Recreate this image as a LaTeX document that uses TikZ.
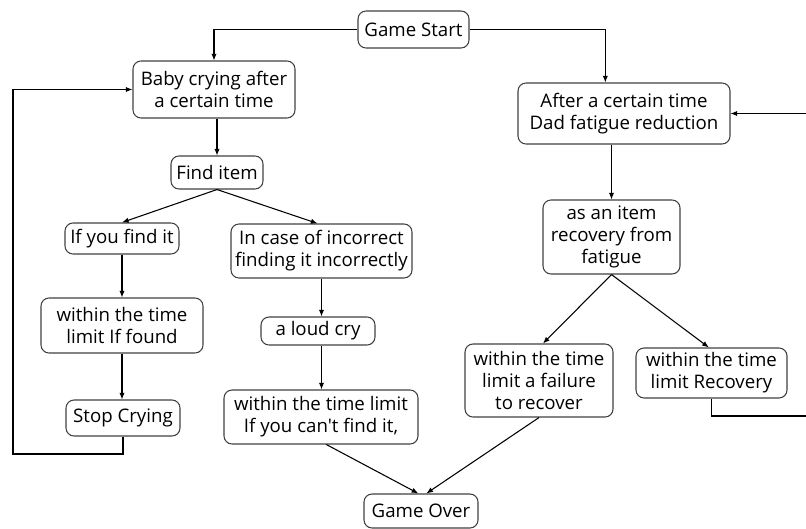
\documentclass[tikz,border=0pt]{standalone}
\usepackage{fontspec}
\setmainfont{Open Sans}[Ligatures=TeXOff]
\usetikzlibrary{positioning, arrows.meta}

\tikzset{
  box/.style 2 args={draw=black!75, line width=.8pt, rounded corners=6pt, align=center,
    inner sep=0pt, minimum width=#1*0.75pt, minimum height=#2*0.75pt,
    font=\fontsize{14}{16.5}\selectfont},
  link/.style={line width=.8pt, -{Latex[length=5pt,width=4pt]}},
}

\begin{document}
\begin{tikzpicture}[x=0.75pt, y=-0.75pt, line join=miter]

\useasboundingbox (0,0) rectangle (806,528);

% baby side
\node[box={111}{37}] (start) at (413.5,29.5) {Game Start};
\node[box={162}{57}] (baby) at (214,89.5) {Baby crying after\\a certain time};
\node[box={92}{33}] (find) at (217,172.5) {Find item};
\node[box={114}{31}] (found) at (122,238.5) {If you find it};
\node[box={181}{54}] (wrong) at (321.5,251) {In case of incorrect\\finding it incorrectly};
\node[box={162}{55}] (intime) at (122,325.5) {within the time\\limit If found};
\node[box={114}{36}] (stop) at (123,418) {Stop Crying};
\node[box={114}{28}] (cry) at (318,331) {a loud cry};
\node[box={194}{54}] (cant) at (321,417) {within the time limit\\If you can't find it,};
\node[box={114}{34}] (over) at (421,511) {Game Over};

% dad side
\node[box={212}{61}] (dad) at (624,113.5) {After a certain time\\Dad fatigue reduction};
\node[box={137}{74}] (item) at (611.5,237) {as an item\\recovery from\\fatigue};
\node[box={148}{73}] (fail) at (539,380.5) {within the time\\limit a failure\\to recover};
\node[box={151}{50}] (recov) at (711.5,373) {within the time\\limit Recovery};

\coordinate (lp) at (13,454);
\coordinate (rp) at (820,416);

\draw[link] (start.west) -| (baby.north);
\draw[link] (start.east) -| ([xshift=-14]dad.north);
\draw[link] (baby.south -| find.north) -- (find.north);
\draw[link] (find.south) -- (found.north);
\draw[link] (find.south) -- ([xshift=-3]wrong.north);
\draw[link] (found.south) -- (intime.north);
\draw[link] (intime.south) -- (intime.south |- stop.north);
\draw[link] (stop.south) |- (lp) |- (baby.west);
\draw[link] (wrong.south) -- (wrong.south |- cry.north);
\draw[link] (wrong.south |- cry.south) -- (wrong.south |- cant.north);
\draw[link] ([xshift=4]cant.south) -- ([xshift=-2]over.north);
\draw[link] (fail.south) -- ([xshift=4]over.north);

\draw[link] (dad.south -| item.north) -- (item.north);
\draw[link] (item.south) -- ([xshift=3]fail.north);
\draw[link] (item.south) -- ([xshift=-2]recov.north);
\draw[link] (recov.south) |- (rp) |- (dad.east);

\end{tikzpicture}
\end{document}
